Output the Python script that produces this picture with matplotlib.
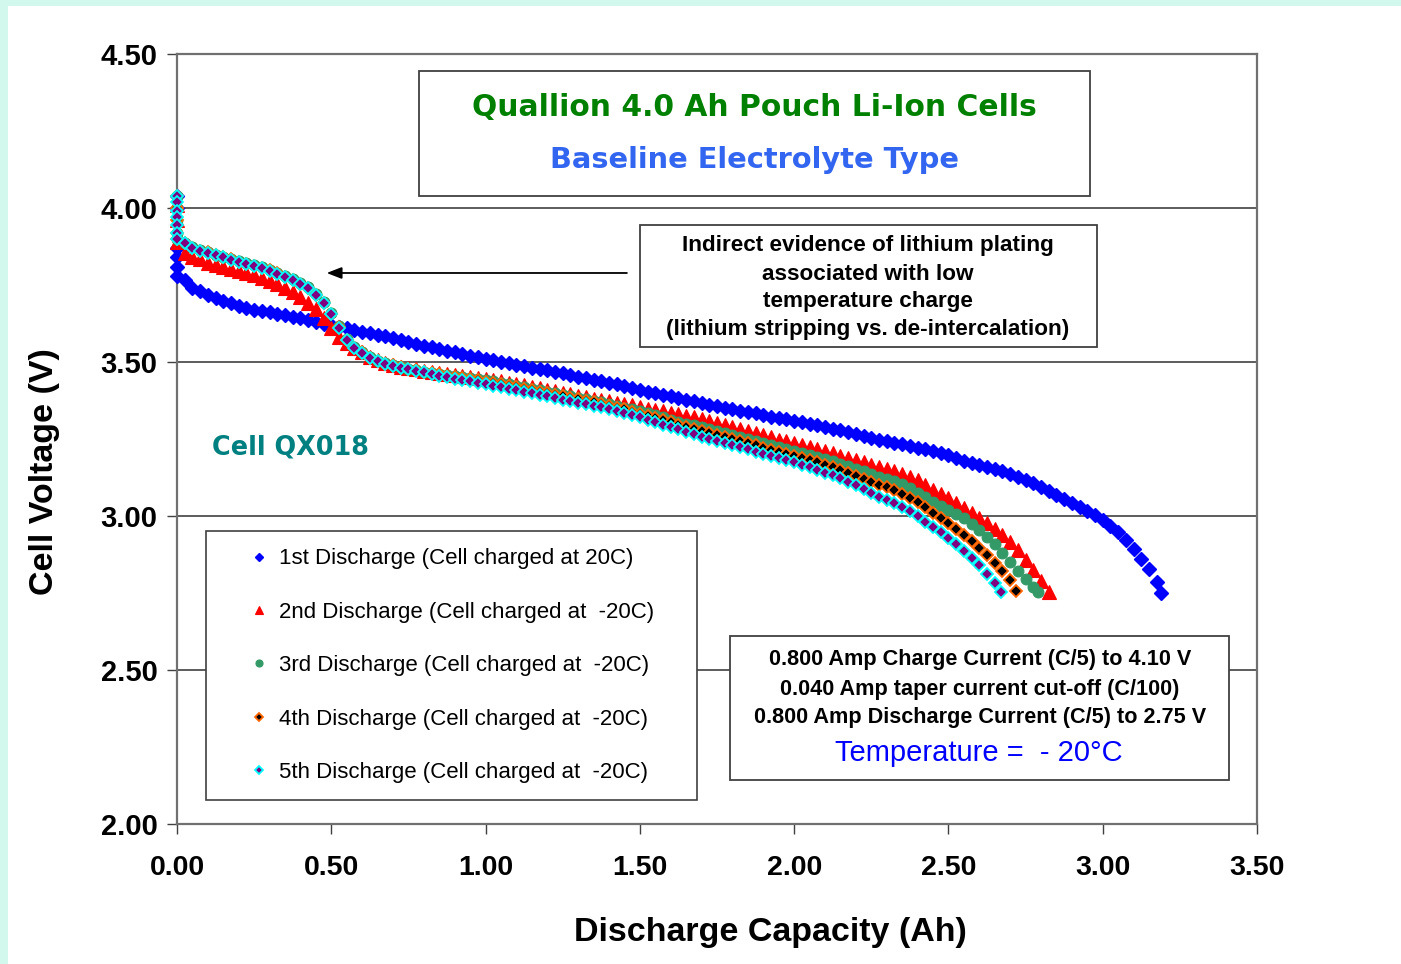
import matplotlib
matplotlib.use("Agg")
import matplotlib.pyplot as plt
from matplotlib.patches import Rectangle

# ---------------- data ----------------
# common capacity grid (Ah) of the logged points after the start
capacity_grid = [
    0.025, 0.050, 0.075, 0.100, 0.125, 0.150, 0.175, 0.200, 0.225, 0.250,
    0.275, 0.300, 0.325, 0.350, 0.375, 0.400, 0.425, 0.450, 0.475, 0.500,
    0.525, 0.550, 0.575, 0.600, 0.625, 0.650, 0.675, 0.700, 0.725, 0.750,
    0.775, 0.800, 0.825, 0.850, 0.875, 0.900, 0.925, 0.950, 0.975, 1.000,
    1.025, 1.050, 1.075, 1.100, 1.125, 1.150, 1.175, 1.200, 1.225, 1.250,
    1.275, 1.300, 1.325, 1.350, 1.375, 1.400, 1.425, 1.450, 1.475, 1.500,
    1.525, 1.550, 1.575, 1.600, 1.625, 1.650, 1.675, 1.700, 1.725, 1.750,
    1.775, 1.800, 1.825, 1.850, 1.875, 1.900, 1.925, 1.950, 1.975, 2.000,
    2.025, 2.050, 2.075, 2.100, 2.125, 2.150, 2.175, 2.200, 2.225, 2.250,
    2.275, 2.300, 2.325, 2.350, 2.375, 2.400, 2.425, 2.450, 2.475, 2.500,
    2.525, 2.550, 2.575, 2.600, 2.625, 2.650, 2.675, 2.700, 2.725, 2.750,
    2.775, 2.800, 2.825, 2.850, 2.875, 2.900, 2.925, 2.950, 2.975, 3.000,
    3.025, 3.050, 3.075, 3.100, 3.125, 3.150, 3.175,
]

# 1st discharge (cell charged at 20C)
d1_start_v = [4.04, 4.00, 3.87, 3.84, 3.81, 3.78]
d1_v = [
    3.765, 3.740, 3.730, 3.717, 3.708, 3.699, 3.691, 3.683, 3.676, 3.670,
    3.666, 3.661, 3.657, 3.652, 3.646, 3.643, 3.637, 3.631, 3.625, 3.619,
    3.614, 3.609, 3.605, 3.598, 3.593, 3.589, 3.583, 3.577, 3.570, 3.565,
    3.559, 3.553, 3.548, 3.543, 3.537, 3.532, 3.526, 3.521, 3.515, 3.509,
    3.505, 3.500, 3.496, 3.491, 3.487, 3.482, 3.478, 3.473, 3.468, 3.463,
    3.458, 3.452, 3.447, 3.442, 3.437, 3.432, 3.427, 3.421, 3.415, 3.409,
    3.404, 3.398, 3.393, 3.388, 3.383, 3.378, 3.372, 3.367, 3.362, 3.357,
    3.352, 3.347, 3.342, 3.337, 3.333, 3.328, 3.323, 3.318, 3.314, 3.309,
    3.305, 3.300, 3.295, 3.290, 3.284, 3.278, 3.272, 3.266, 3.260, 3.254,
    3.248, 3.243, 3.238, 3.233, 3.227, 3.222, 3.216, 3.210, 3.204, 3.197,
    3.189, 3.180, 3.172, 3.166, 3.160, 3.154, 3.146, 3.136, 3.126, 3.116,
    3.106, 3.094, 3.082, 3.069, 3.056, 3.043, 3.030, 3.016, 3.002, 2.987,
    2.968, 2.947, 2.922, 2.892, 2.860, 2.828, 2.785,
]
d1_end = (3.190, 2.750)

# 2nd discharge (cell charged at -20C)
d2_start_v = [4.01, 3.96, 3.89]
d2_v = [
    3.855, 3.842, 3.833, 3.823, 3.816, 3.810, 3.803, 3.796, 3.789, 3.781,
    3.772, 3.763, 3.753, 3.741, 3.726, 3.710, 3.690, 3.672, 3.644, 3.612,
    3.580, 3.562, 3.547, 3.531, 3.516, 3.505, 3.497, 3.490, 3.484, 3.480,
    3.476, 3.472, 3.468, 3.465, 3.461, 3.458, 3.455, 3.451, 3.448, 3.445,
    3.441, 3.438, 3.433, 3.429, 3.424, 3.419, 3.414, 3.409, 3.405, 3.400,
    3.395, 3.390, 3.386, 3.381, 3.377, 3.372, 3.368, 3.363, 3.359, 3.354,
    3.349, 3.345, 3.340, 3.335, 3.330, 3.325, 3.320, 3.315, 3.309, 3.303,
    3.297, 3.290, 3.283, 3.276, 3.269, 3.262, 3.255, 3.248, 3.242, 3.236,
    3.229, 3.223, 3.216, 3.210, 3.203, 3.196, 3.189, 3.182, 3.175, 3.167,
    3.160, 3.153, 3.145, 3.137, 3.127, 3.116, 3.102, 3.086, 3.071, 3.057,
    3.042, 3.026, 3.010, 2.994, 2.977, 2.958, 2.938, 2.914, 2.888, 2.858,
    2.824, 2.789, 2.752,
]

# 3rd discharge (cell charged at -20C)
d3_start_v = [4.04, 4.00, 3.96, 3.92, 3.90]
d3_v = [
    3.886, 3.872, 3.863, 3.857, 3.849, 3.842, 3.834, 3.827, 3.820, 3.814,
    3.807, 3.799, 3.789, 3.778, 3.768, 3.756, 3.743, 3.722, 3.694, 3.660,
    3.616, 3.575, 3.548, 3.532, 3.515, 3.504, 3.496, 3.490, 3.484, 3.478,
    3.473, 3.469, 3.465, 3.462, 3.458, 3.455, 3.451, 3.447, 3.444, 3.440,
    3.437, 3.433, 3.428, 3.423, 3.418, 3.413, 3.409, 3.404, 3.399, 3.394,
    3.389, 3.384, 3.379, 3.375, 3.370, 3.364, 3.358, 3.352, 3.346, 3.340,
    3.333, 3.327, 3.320, 3.313, 3.306, 3.300, 3.294, 3.288, 3.282, 3.276,
    3.270, 3.263, 3.256, 3.250, 3.243, 3.237, 3.230, 3.224, 3.218, 3.212,
    3.206, 3.199, 3.193, 3.186, 3.178, 3.170, 3.162, 3.154, 3.146, 3.137,
    3.128, 3.121, 3.113, 3.104, 3.091, 3.076, 3.061, 3.046, 3.033, 3.020,
    3.006, 2.992, 2.975, 2.955, 2.933, 2.908, 2.880, 2.852, 2.822, 2.795,
    2.770,
]
d3_end = (2.790, 2.752)

# 4th discharge (cell charged at -20C)
d4_start_v = [4.04, 4.00, 3.96, 3.92, 3.90]
d4_v = [
    3.885, 3.871, 3.862, 3.856, 3.848, 3.841, 3.833, 3.826, 3.819, 3.813,
    3.806, 3.798, 3.788, 3.776, 3.766, 3.754, 3.741, 3.719, 3.691, 3.657,
    3.614, 3.573, 3.546, 3.531, 3.514, 3.503, 3.495, 3.489, 3.483, 3.478,
    3.473, 3.468, 3.464, 3.460, 3.456, 3.452, 3.448, 3.444, 3.440, 3.436,
    3.432, 3.428, 3.423, 3.418, 3.413, 3.408, 3.403, 3.398, 3.393, 3.389,
    3.384, 3.379, 3.374, 3.369, 3.364, 3.358, 3.352, 3.346, 3.339, 3.332,
    3.325, 3.318, 3.311, 3.304, 3.297, 3.290, 3.284, 3.277, 3.270, 3.263,
    3.256, 3.250, 3.243, 3.236, 3.229, 3.222, 3.215, 3.208, 3.202, 3.196,
    3.189, 3.182, 3.175, 3.167, 3.159, 3.150, 3.141, 3.131, 3.121, 3.111,
    3.101, 3.093, 3.083, 3.072, 3.059, 3.046, 3.029, 3.011, 2.994, 2.976,
    2.958, 2.939, 2.919, 2.897, 2.873, 2.849, 2.822, 2.792,
]
d4_end = (2.720, 2.755)

# 5th discharge (cell charged at -20C)
d5_start_v = [4.04, 4.02, 3.99, 3.97, 3.945, 3.92, 3.90]
d5_v = [
    3.885, 3.870, 3.861, 3.855, 3.847, 3.840, 3.832, 3.825, 3.818, 3.812,
    3.805, 3.797, 3.787, 3.775, 3.765, 3.753, 3.740, 3.718, 3.690, 3.655,
    3.612, 3.572, 3.545, 3.530, 3.513, 3.502, 3.494, 3.488, 3.482, 3.477,
    3.471, 3.466, 3.461, 3.456, 3.451, 3.446, 3.441, 3.437, 3.432, 3.427,
    3.423, 3.418, 3.413, 3.408, 3.403, 3.398, 3.393, 3.388, 3.383, 3.378,
    3.373, 3.368, 3.363, 3.358, 3.353, 3.347, 3.341, 3.334, 3.327, 3.320,
    3.313, 3.305, 3.297, 3.289, 3.281, 3.273, 3.265, 3.258, 3.251, 3.244,
    3.237, 3.230, 3.223, 3.216, 3.209, 3.202, 3.195, 3.188, 3.181, 3.174,
    3.166, 3.158, 3.150, 3.141, 3.132, 3.122, 3.112, 3.101, 3.089, 3.076,
    3.063, 3.052, 3.041, 3.030, 3.015, 2.999, 2.982, 2.965, 2.947, 2.928,
    2.908, 2.887, 2.865, 2.840, 2.813, 2.784,
]
d5_end = (2.670, 2.752)

series_labels = [
    "1st Discharge (Cell charged at 20C)",
    "2nd Discharge (Cell charged at  -20C)",
    "3rd Discharge (Cell charged at  -20C)",
    "4th Discharge (Cell charged at  -20C)",
    "5th Discharge (Cell charged at  -20C)",
]
x_ticks = [0.0, 0.5, 1.0, 1.5, 2.0, 2.5, 3.0, 3.5]
y_ticks = [2.0, 2.5, 3.0, 3.5, 4.0, 4.5]
x_tick_labels = ["0.00", "0.50", "1.00", "1.50", "2.00", "2.50", "3.00", "3.50"]
y_tick_labels = ["2.00", "2.50", "3.00", "3.50", "4.00", "4.50"]


def build(start_v, body_v, end=None):
    xs = [0.0] * len(start_v) + capacity_grid[:len(body_v)]
    ys = list(start_v) + list(body_v)
    if end is not None:
        xs.append(end[0])
        ys.append(end[1])
    return xs, ys


# ---------------- figure ----------------
W, H = 1401, 964
fig = plt.figure(figsize=(W / 100, H / 100), dpi=100)
fig.patch.set_facecolor("white")


def fx(px):
    return px / W


def fy(py):
    return 1 - py / H


mint = "#D2F8EE"
fig.add_artist(Rectangle((0, fy(6)), 1, 6 / H, transform=fig.transFigure,
                         facecolor=mint, edgecolor="none", zorder=0))
fig.add_artist(Rectangle((0, 0), 8 / W, 1, transform=fig.transFigure,
                         facecolor=mint, edgecolor="none", zorder=0))

ax = fig.add_axes([fx(177), fy(824), fx(1257) - fx(177), fy(54) - fy(824)])
ax.set_xlim(0, 3.5)
ax.set_ylim(2.0, 4.5)

FONT = "Liberation Sans"

styles = [
    dict(marker="D", ms=7.0, mfc="#0000FF", mec="#0000FF", mew=1.0),
    dict(marker="^", ms=9.5, mfc="#FF0000", mec="#FF0000", mew=0.8),
    dict(marker="o", ms=7.8, mfc="#339966", mec="#339966", mew=0.8),
    dict(marker="D", ms=5.8, mfc="#000000", mec="#FF6600", mew=1.3),
    dict(marker="D", ms=5.8, mfc="#800080", mec="#00FFFF", mew=1.3),
]
datasets = [
    build(d1_start_v, d1_v, d1_end),
    build(d2_start_v, d2_v),
    build(d3_start_v, d3_v, d3_end),
    build(d4_start_v, d4_v, d4_end),
    build(d5_start_v, d5_v, d5_end),
]
for (xs, ys), st, lab in zip(datasets, styles, series_labels):
    ax.plot(xs, ys, linestyle="none", label=lab, clip_on=False, zorder=3, **st)

# axes styling
ax.set_xticks(x_ticks)
ax.set_yticks(y_ticks)
ax.set_xticklabels(x_tick_labels, fontfamily=FONT, fontweight="bold", fontsize=20.5)
ax.set_yticklabels(y_tick_labels, fontfamily=FONT, fontweight="bold", fontsize=21)
ax.tick_params(axis="both", direction="out", length=7, width=1.0, color="#404040")
ax.tick_params(axis="y", pad=7)
ax.tick_params(axis="x", pad=15)
ax.yaxis.grid(True, color="#303030", linewidth=1.1)
ax.set_axisbelow(True)
for sp in ax.spines.values():
    sp.set_color("#707070")
    sp.set_linewidth(1.6)

ax.set_xlabel("Discharge Capacity (Ah)", fontfamily=FONT, fontweight="bold", fontsize=24.5)
ax.xaxis.set_label_coords(fx(770), fy(932), transform=fig.transFigure)
ax.xaxis.label.set_va("center")
ax.set_ylabel("Cell Voltage (V)", fontfamily=FONT, fontweight="bold", fontsize=24.5)
ax.yaxis.set_label_coords(fx(45), fy(472), transform=fig.transFigure)
ax.yaxis.label.set_va("center")

# legend
leg = ax.legend(
    loc="upper left",
    bbox_to_anchor=(fx(206), fy(797), fx(697) - fx(206), fy(531) - fy(797)),
    bbox_transform=fig.transFigure, mode="expand", borderaxespad=0,
    prop={"family": FONT, "size": 16}, markerscale=0.65, numpoints=1,
    handlelength=3.25, handletextpad=-0.73, labelspacing=1.46, borderpad=0.78,
    fancybox=False, frameon=True, framealpha=1, edgecolor="#404040",
)
leg.get_frame().set_linewidth(1.2)

renderer = fig.canvas.get_renderer()


def fit_text(x, y, s, target_w, **kw):
    t = fig.text(fx(x), fy(y), s, ha="center", va="center", fontsize=20, zorder=6, **kw)
    w = t.get_window_extent(renderer).width
    t.set_fontsize(20 * target_w / w)
    return t


def box(x0, y0, x1, y1):
    fig.add_artist(Rectangle((fx(x0), fy(y1)), fx(x1) - fx(x0), fy(y0) - fy(y1),
                             transform=fig.transFigure, facecolor="white",
                             edgecolor="#404040", linewidth=1.3, zorder=5))


# title box
box(419, 71, 1090, 196)
fit_text(754, 107, "Quallion 4.0 Ah Pouch Li-Ion Cells", 564,
         color="#008000", fontfamily="DejaVu Sans", fontweight="bold")
fit_text(754, 160, "Baseline Electrolyte Type", 411,
         color="#3366F0", fontfamily="DejaVu Sans", fontweight="bold")

# cell id
fit_text(291, 448, "Cell QX018", 157, color="#008080",
         fontfamily="DejaVu Sans", fontweight="bold")

# annotation box
box(640, 225, 1097, 347)
for yy, s in zip([245, 274, 302, 330],
                 ["Indirect evidence of lithium plating", "associated with low",
                  "temperature charge", "(lithium stripping vs. de-intercalation)"]):
    fig.text(fx(868), fy(yy), s, ha="center", va="center", fontfamily=FONT,
             fontweight="bold", fontsize=16.2, zorder=6)
ax.annotate("", xy=(0.485, 3.789), xytext=(1.458, 3.789),
            arrowprops=dict(arrowstyle="-|>,head_length=0.9,head_width=0.35",
                            color="black", lw=1.3, shrinkA=0, shrinkB=0),
            zorder=6)

# test conditions box
box(730, 636, 1229, 780)
for yy, s in zip([660, 689, 718],
                 ["0.800 Amp Charge Current (C/5) to 4.10 V",
                  "0.040 Amp taper current cut-off (C/100)",
                  "0.800 Amp Discharge Current (C/5) to 2.75 V"]):
    fig.text(fx(980), fy(yy), s, ha="center", va="center", fontfamily=FONT,
             fontweight="bold", fontsize=15.6, zorder=6)
fig.text(fx(979), fy(753), "Temperature =  - 20°C", ha="center", va="center",
         fontfamily=FONT, fontsize=21, color="#0000FF", zorder=6)

fig.savefig("out.png", dpi=100)
